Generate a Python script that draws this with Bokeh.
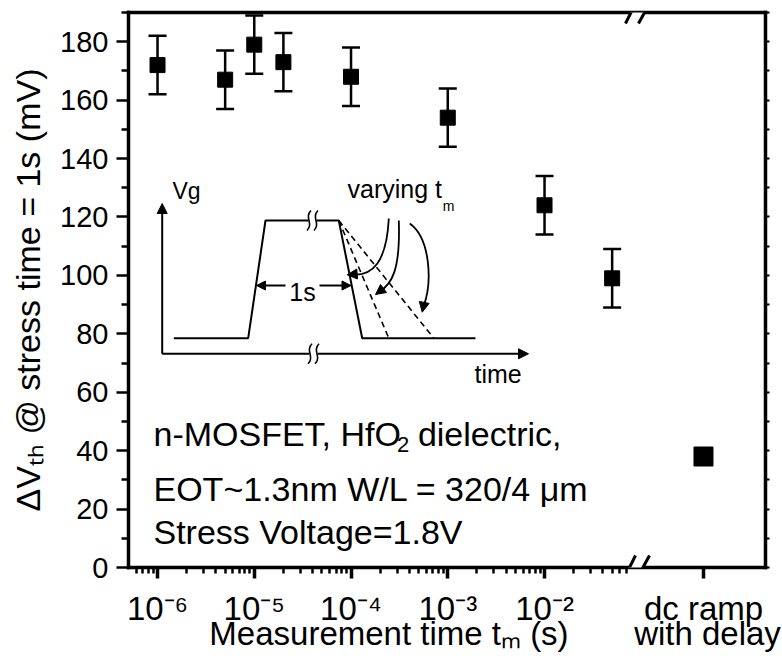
import numpy as np
from bokeh.plotting import figure
from bokeh.models import (Range1d, LinearAxis, FixedTicker, Label, Whisker,
                          ColumnDataSource, Arrow, NormalHead, TeeHead, PolyAnnotation)
from bokeh.embed import file_html
from bokeh.resources import INLINE

# ---------------- data ----------------
meas_time_s = [1e-6, 5e-6, 1e-5, 2e-5, 1e-4, 1e-3, 1e-2, 5e-2]
dvth_mV = [172, 167, 179, 173, 168, 154, 124, 99]
dvth_err_mV = [10, 10, 10, 10, 10, 10, 10, 10]
dc_ramp_dvth_mV = [38]
x_decades = [-6, -5, -4, -3, -2]
x_tick_labels = ["10⁻⁶", "10⁻⁵", "10⁻⁴", "10⁻³", "10⁻²"]
dc_label_lines = ["dc ramp", "with delay"]
y_ticks = [0, 20, 40, 60, 80, 100, 120, 140, 160, 180]
y_minor_ticks = [10, 30, 50, 70, 90, 110, 130, 150, 170, 190]
right_ticks = [0, 10, 20, 30, 40, 50, 60, 70, 80, 90, 100, 110, 120, 130, 140, 150, 160, 170, 180, 190]
x_title = "Measurement time tₘ (s)"
y_title = "ΔVₜₕ @ stress time = 1s (mV)"

# ---------------- axis geometry (x in log10 seconds, broken axis) ----------------
X_LO, X_HI = -6.30, 0.284
Y_LO, Y_HI = 0, 190
X_DC = -0.357          # position of the "dc ramp with delay" category after the break
W, H = 782, 665
FL, FR, FT, FB = 128, 765, 12, 567
FONT = "Liberation Sans"


def dx(px):
    return X_LO + (px - FL) / (FR - FL) * (X_HI - X_LO)


def dy(py):
    return Y_LO + (FB - py) / (FB - FT) * (Y_HI - Y_LO)


AW = {' ': 278, '(': 333, ')': 333, ',': 278, '-': 333, '.': 278, '/': 278, '=': 584, '@': 1015,
      '~': 584, 'Δ': 668, 'μ': 576, 'E': 667, 'F': 611, 'H': 722, 'L': 556, 'M': 833, 'O': 778,
      'S': 667, 'T': 611, 'V': 667, 'W': 944, 'a': 556, 'c': 500, 'd': 556, 'e': 556, 'f': 278,
      'g': 556, 'h': 556, 'i': 222, 'l': 222, 'm': 833, 'n': 556, 'r': 333, 's': 500, 't': 278,
      'u': 556, 'v': 500, 'y': 500}


def tw(s, size):
    return 0.965 * sum(AW.get(c, 556) for c in s) / 1000.0 * size


p = figure(width=W, height=H, x_range=Range1d(X_LO, X_HI), y_range=Range1d(Y_LO, Y_HI),
           x_axis_type=None, y_axis_type=None, output_backend="svg", toolbar_location=None,
           min_border_left=FL, min_border_right=W - FR, min_border_top=FT,
           min_border_bottom=H - FB, outline_line_color=None,
           background_fill_color="white", border_fill_color="white")

AXW = 3.5
common = dict(axis_line_width=AXW, axis_line_color="black", axis_line_cap="square",
              major_tick_line_color="black", minor_tick_line_color="black")

left = LinearAxis(ticker=FixedTicker(ticks=y_ticks, minor_ticks=y_minor_ticks),
                  major_tick_out=12, major_tick_in=0, minor_tick_out=7, minor_tick_in=0,
                  major_tick_line_width=2.5, minor_tick_line_width=2.5,
                  major_label_text_font=FONT, major_label_text_font_size="29px",
                  major_label_text_color="black", major_label_standoff=8,
                  axis_label=y_title, axis_label_text_font=FONT,
                  axis_label_text_font_size="34px", axis_label_text_font_style="normal",
                  axis_label_text_color="black", axis_label_standoff=10, **common)
p.add_layout(left, "left")

# first bottom axis: ticks + decade labels + "dc ramp"
minors = []
for e in range(-7, -1):
    for k in range(2, 10):
        v = e + np.log10(k)
        if X_LO < v < -1.15:
            minors.append(float(v))
bt_ticks = [float(e) for e in x_decades] + [X_DC]
bt_labels = {float(e): lab for e, lab in zip(x_decades, x_tick_labels)}
bt_labels[X_DC] = dc_label_lines[0]
bottom = LinearAxis(ticker=FixedTicker(ticks=bt_ticks, minor_ticks=minors),
                    major_label_overrides=bt_labels,
                    major_tick_out=11, major_tick_in=0, minor_tick_out=6, minor_tick_in=0,
                    major_tick_line_width=3.5, minor_tick_line_width=2.5,
                    major_label_text_font=FONT, major_label_text_font_size="33px",
                    major_label_text_color="black", major_label_standoff=11, **common)
p.add_layout(bottom, "below")

# second bottom row: axis title and the second line of the dc label
T_TITLE = round(dx(388.5), 4)
T_WITH = round(dx(707), 4)
bottom2 = LinearAxis(ticker=FixedTicker(ticks=[T_TITLE, T_WITH]),
                     major_label_overrides={T_TITLE: x_title, T_WITH: dc_label_lines[1]},
                     major_tick_out=0, major_tick_in=0, major_tick_line_color=None,
                     axis_line_color=None, major_label_text_font=FONT,
                     major_label_text_font_size="33px", major_label_text_color="black",
                     major_label_standoff=-15)
p.add_layout(bottom2, "below")

right = LinearAxis(ticker=FixedTicker(ticks=[], minor_ticks=right_ticks),
                   minor_tick_out=4, minor_tick_in=0, minor_tick_line_width=2,
                   major_tick_out=0, major_tick_in=0, **common)
p.add_layout(right, "right")

top = LinearAxis(ticker=FixedTicker(ticks=[]), major_tick_out=0, major_tick_in=0, **common)
p.add_layout(top, "above")

# ---------------- data marks ----------------
xs = np.log10(np.array(meas_time_s))
yv = np.array(dvth_mV, dtype=float)
ev = np.array(dvth_err_mV, dtype=float)
src = ColumnDataSource(dict(x=xs, y=yv, lower=yv - ev, upper=yv + ev))
p.add_layout(Whisker(source=src, base="x", lower="lower", upper="upper", line_width=2.5,
                     line_color="black",
                     upper_head=TeeHead(size=18, line_width=2.5, line_color="black"),
                     lower_head=TeeHead(size=18, line_width=2.5, line_color="black")))
p.scatter("x", "y", source=src, marker="square", size=15, color="black")
p.scatter([X_DC], dc_ramp_dvth_mV, marker="square", size=19, color="black")


# ---------------- axis breaks ----------------
def axis_break(c):
    p.add_layout(PolyAnnotation(xs=[dx(626.5), dx(639.6), dx(645.8), dx(632.5)],
                                ys=[dy(c + 5), dy(c + 5), dy(c - 6), dy(c - 6)],
                                fill_color="white", fill_alpha=1, line_color=None, level="overlay"))
    for (x0, x1) in [(625, 635), (638, 649)]:
        p.add_layout(Arrow(end=None, x_start=dx(x0), y_start=dy(c + 10), x_end=dx(x1),
                           y_end=dy(c - 10), line_width=3, line_color="black", level="overlay"))


axis_break(FB - 2)
axis_break(FT + 1)


def put(txt, px, py, size, align="left", baseline="alphabetic", angle=0.0):
    p.add_layout(Label(x=dx(px), y=dy(py), text=txt, text_font=FONT,
                       text_font_size=f"{size}px", text_align=align,
                       text_baseline=baseline, angle=angle, text_color="black"))


# ---------------- device annotation ----------------
TS = 34
l1 = "n-MOSFET, HfO"
put(l1, 153, 433, TS)
sx = 153 + tw(l1, TS) + 1
put("2", sx, 444, 22)
put("dielectric,", sx + tw("2", 22) + tw(" ", TS), 433, TS)
put("EOT~1.3nm W/L = 320/4 μm", 153, 488, TS)
put("Stress Voltage=1.8V", 153, 531, TS)

# ---------------- inset schematic (pixel layout -> data coords) ----------------
LW = 2


def line(pxs, pys, dash="solid", w=LW):
    p.line([dx(a) for a in pxs], [dy(b) for b in pys], line_color="black", line_width=w,
           line_dash=dash)


def arrow(x0, y0, x1, y1, size=10, w=LW):
    p.add_layout(Arrow(x_start=dx(x0), y_start=dy(y0), x_end=dx(x1), y_end=dy(y1),
                       line_width=w, line_color="black",
                       end=NormalHead(size=size, fill_color="black", line_color="black",
                                      line_width=1)))


def curve(a, b, c, d, w=1.8):
    p.bezier(x0=[dx(a[0])], y0=[dy(a[1])], cx0=[dx(b[0])], cy0=[dy(b[1])],
             cx1=[dx(c[0])], cy1=[dy(c[1])], x1=[dx(d[0])], y1=[dy(d[1])],
             line_color="black", line_width=w)


def squiggle(xc, yc, hh=10):
    for off in (-3.5, 3.5):
        curve((xc + off - 2, yc + hh), (xc + off + 5, yc + 3), (xc + off - 5, yc - 3),
              (xc + off + 2, yc - hh), w=1.6)


# axes of the schematic
arrow(161.7, 353.3, 161.7, 203)
line([161.7, 308.5], [353.3, 353.3])
arrow(317.5, 353.3, 528, 353.3)
squiggle(313, 353.3)
# gate pulse
line([173.3, 247.7, 265, 308], [337.7, 337.7, 220, 220])
line([316, 338.3, 361.7, 475], [220, 220, 337.7, 337.7])
squiggle(312, 220)
line([338.3, 388.3], [220, 337.7], dash="6 4", w=1.6)
line([338.3, 433.3], [220, 337.7], dash="6 4", w=1.6)
# 1 s markers
arrow(285, 285, 256, 285, size=9)
arrow(319, 285, 350.5, 285, size=9)
put("1s", 302, 291, 25, align="center")
# varying t_m arrows
curve((388.3, 218), (386, 262), (372, 276), (351, 274))
arrow(353, 273.8, 346.7, 274.3, size=10, w=1.5)
curve((398.3, 220), (400, 270), (391, 284), (379, 291))
arrow(381, 289.5, 375, 294, size=10, w=1.5)
curve((409.3, 223), (430, 238), (432, 282), (423, 306))
arrow(423.3, 304, 421.7, 311.7, size=10, w=1.5)
# schematic texts
put("Vg", 172, 190, 23)
vt = "varying t"
put(vt, 347, 188, 25)
put("m", 347 + tw(vt, 25) + 4, 205, 14)
put("time", 474, 373, 25)

open("out.html", "w").write(file_html(p, INLINE))
